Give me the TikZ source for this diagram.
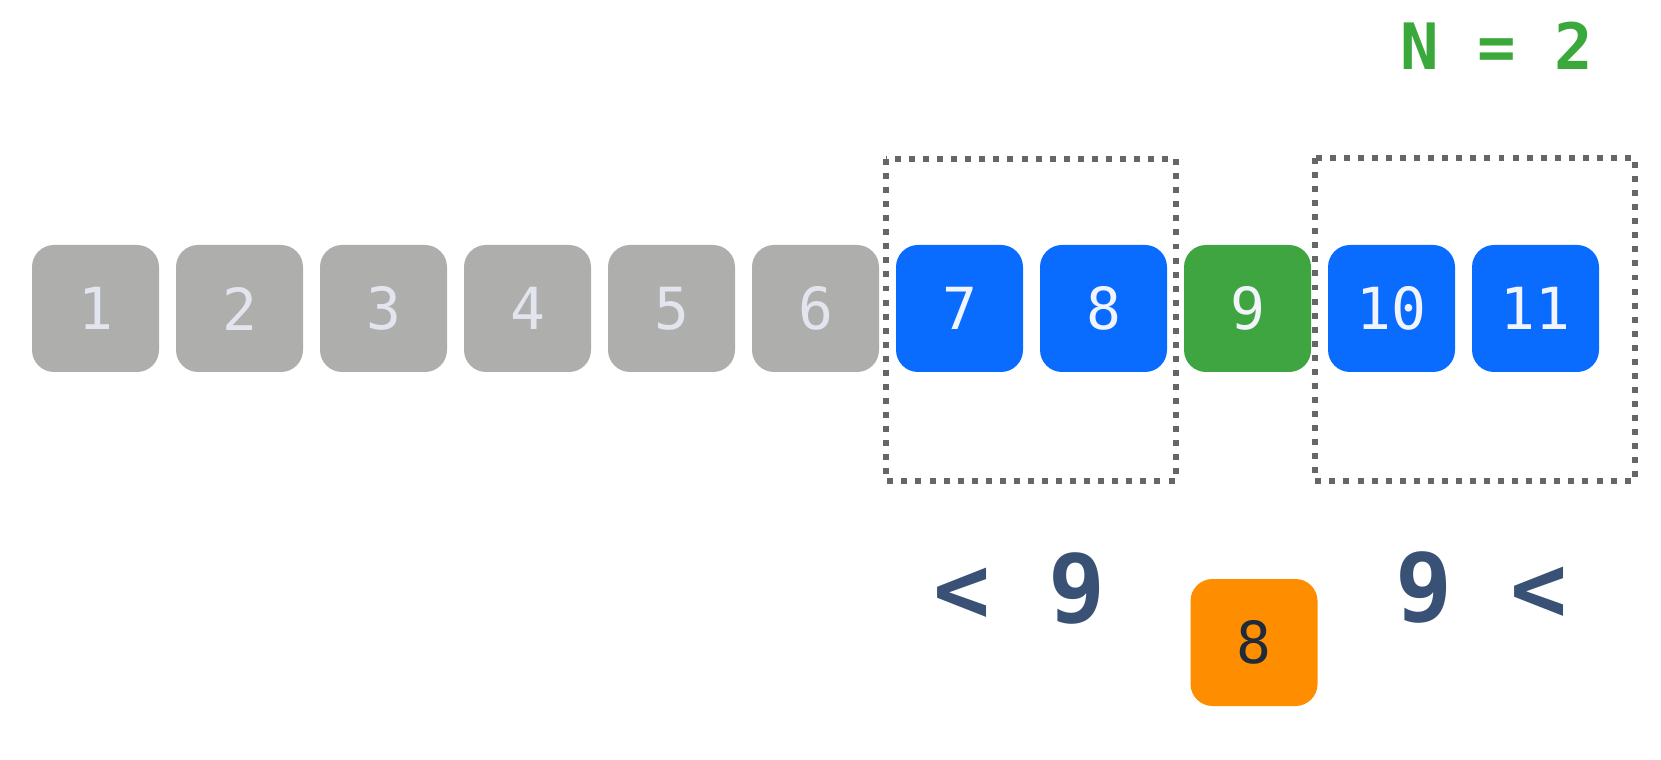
\documentclass[tikz,border=0pt]{standalone}
\usepackage{fontspec}
\newfontfamily\cellfont{DejaVu Sans Mono}

\definecolor{cellgrey}{HTML}{AEAFAD}
\definecolor{cellgreytext}{HTML}{E3E5EE}
\definecolor{cellblue}{HTML}{0A6CFF}
\definecolor{cellgreen}{HTML}{3FA541}
\definecolor{cellorange}{HTML}{FF8D00}
\definecolor{celltext}{HTML}{F2F4FC}
\definecolor{querytext}{HTML}{1F2A3A}
\definecolor{navytext}{HTML}{3A5176}
\definecolor{titlegreen}{HTML}{3BA83B}
\definecolor{windowgrey}{HTML}{666666}

\tikzset{
	cellbox/.style={rectangle, rounded corners=0.22cm, minimum width=1.27cm, minimum height=1.27cm, inner sep=0pt, font=\cellfont\fontsize{16.5}{20}\selectfont},
	greycell/.style={cellbox, fill=cellgrey, text=cellgreytext},
	bluecell/.style={cellbox, fill=cellblue, text=celltext},
	greencell/.style={cellbox, fill=cellgreen, text=celltext},
	querycell/.style={cellbox, fill=cellorange, text=querytext},
	window/.style={draw=windowgrey, line width=1.7pt, dash pattern=on 1.7pt off 2.3pt},
	compare/.style={text=navytext, inner sep=0pt, anchor=base, font=\cellfont\bfseries\fontsize{27}{32}\selectfont},
}

\begin{document}
\begin{tikzpicture}
		%%%%% START %%%%%
		\useasboundingbox (0, 0) rectangle (16.61, -7.60);
		
		\node[text=titlegreen, inner sep=0pt, anchor=base, font=\cellfont\bfseries\fontsize{18.2}{22}\selectfont] (title) at (14.97, -0.70) {N = 2};
		
		\draw[window] (8.86, -1.59) rectangle (11.76, -4.81);
		\draw[window] (13.15, -1.58) rectangle (16.35, -4.81);
		
		\node[greycell] (n1) at (0.955, -3.085) {1};
		\node[greycell] (n2) at (2.395, -3.085) {2};
		\node[greycell] (n3) at (3.835, -3.085) {3};
		\node[greycell] (n4) at (5.275, -3.085) {4};
		\node[greycell] (n5) at (6.715, -3.085) {5};
		\node[greycell] (n6) at (8.155, -3.085) {6};
		\node[bluecell] (n7) at (9.595, -3.085) {7};
		\node[bluecell] (n8) at (11.035, -3.085) {8};
		\node[greencell] (n9) at (12.475, -3.085) {9};
		\node[bluecell] (n10) at (13.915, -3.085) {10};
		\node[bluecell] (n11) at (15.355, -3.085) {11};
		
		\node[compare] (lessL) at (10.195, -6.22) {< 9};
		\node[compare] (lessR) at (14.815, -6.21) {9 <};
		
		\node[querycell] (query) at (12.54, -6.425) {8};
		
		%%%%% END %%%%%
	\end{tikzpicture}
\end{document}
